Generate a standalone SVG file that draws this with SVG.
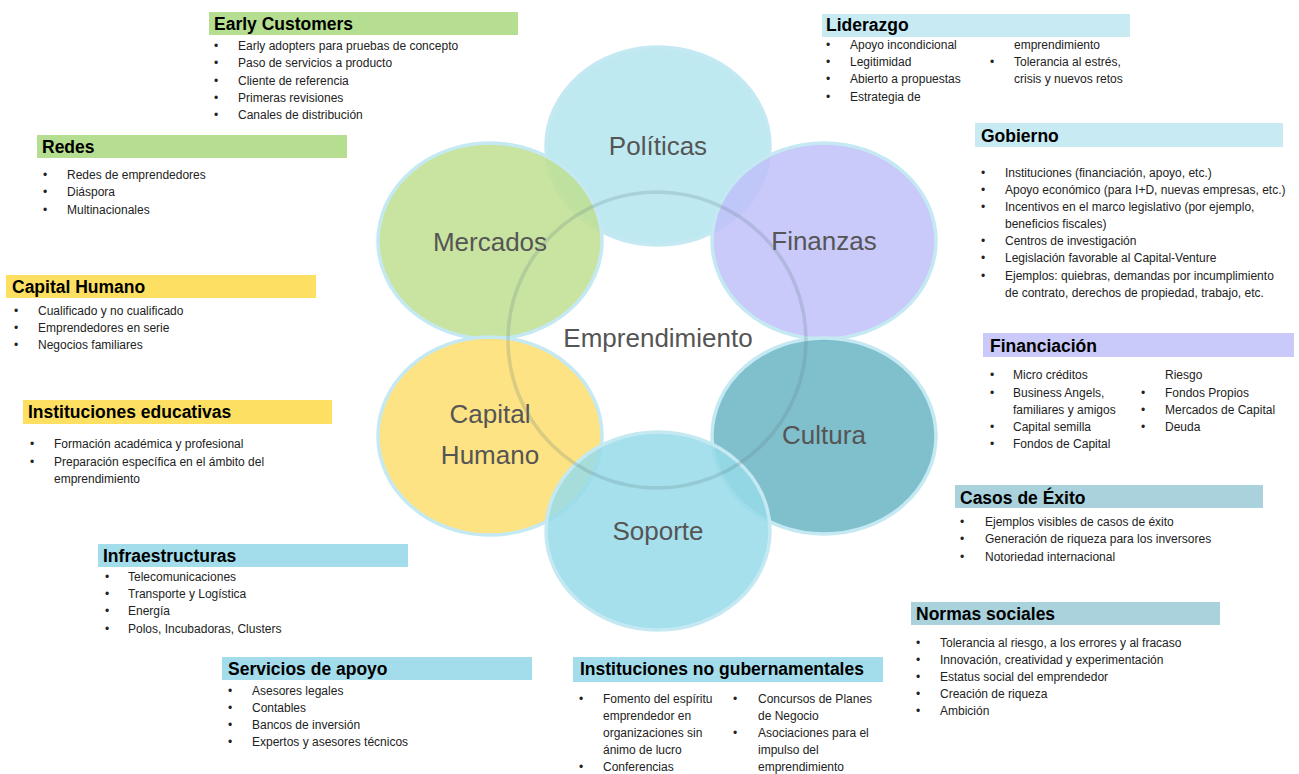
<svg xmlns="http://www.w3.org/2000/svg" width="1299" height="774" viewBox="0 0 1299 774">
<style>
.t{font-family:"Liberation Sans",Arial,sans-serif;font-weight:bold;font-size:17.5px;fill:#000}
.i{font-family:"Liberation Sans",Arial,sans-serif;font-size:12px;fill:#222}
.c{font-family:"Liberation Sans",Arial,sans-serif;font-size:26px;fill:#555;text-anchor:middle}
.ci{stroke:#c4e9f2;stroke-width:3.5;fill-opacity:0.85}
.green{fill:#b6de90}.yellow{fill:#fde062}.lcyan{fill:#c8ebf3}.lav{fill:#c9c9fa}.teal{fill:#a9d2dd}.cyan{fill:#a3dcea}
</style>
<rect width="1299" height="774" fill="#fff"/>
<g id="circles">
<g id="politicas"><ellipse class="ci" cx="658" cy="146" rx="112" ry="99" fill="#b3e5ef"/><text class="c" x="658" y="155">Políticas</text></g>
<g id="mercados"><ellipse class="ci" cx="490" cy="241" rx="112" ry="98" fill="#c0df90"/><text class="c" x="490" y="251">Mercados</text></g>
<g id="finanzas"><ellipse class="ci" cx="824" cy="241" rx="112" ry="98" fill="#c0c0f9"/><text class="c" x="824" y="250">Finanzas</text></g>
<g id="cultura"><ellipse class="ci" cx="824" cy="436" rx="112" ry="98" fill="#6ab4c3"/><text class="c" x="824" y="444">Cultura</text></g>
<g id="capital-humano"><ellipse class="ci" cx="490" cy="436" rx="112" ry="99" fill="#fdde6d"/><text class="c" x="490" y="423">Capital</text><text class="c" x="490" y="464">Humano</text></g>
<g id="soporte"><ellipse class="ci" cx="658" cy="531" rx="112" ry="99" fill="#96dae9"/><text class="c" x="658" y="540">Soporte</text></g>
<g id="emprendimiento"><ellipse cx="657" cy="340" rx="149" ry="148" fill="none" stroke="#5a7a80" stroke-opacity="0.22" stroke-width="3.5"/><text class="c" x="658" y="347" font-size="27">Emprendimiento</text></g>
</g>
<g id="connectors"/>

<g id="early-customers">
<rect class="green" x="209" y="12" width="309" height="23"/>
<text class="t" x="214" y="30">Early Customers</text>
<text class="i"><tspan x="214" y="50">•</tspan><tspan x="238">Early adopters para pruebas de concepto</tspan><tspan x="214" y="67">•</tspan><tspan x="238">Paso de servicios a producto</tspan><tspan x="214" y="85">•</tspan><tspan x="238">Cliente de referencia</tspan><tspan x="214" y="102">•</tspan><tspan x="238">Primeras revisiones</tspan><tspan x="214" y="119">•</tspan><tspan x="238">Canales de distribución</tspan></text>
</g>

<g id="redes">
<rect class="green" x="37" y="135" width="310" height="23"/>
<text class="t" x="42" y="153">Redes</text>
<text class="i"><tspan x="43" y="179">•</tspan><tspan x="67">Redes de emprendedores</tspan><tspan x="43" y="196">•</tspan><tspan x="67">Diáspora</tspan><tspan x="43" y="214">•</tspan><tspan x="67">Multinacionales</tspan></text>
</g>

<g id="capital-humano-box">
<rect class="yellow" x="6" y="275" width="310" height="23"/>
<text class="t" x="12" y="293">Capital Humano</text>
<text class="i"><tspan x="14" y="315">•</tspan><tspan x="38">Cualificado y no cualificado</tspan><tspan x="14" y="332">•</tspan><tspan x="38">Emprendedores en serie</tspan><tspan x="14" y="349">•</tspan><tspan x="38">Negocios familiares</tspan></text>
</g>

<g id="instituciones-educativas">
<rect class="yellow" x="23" y="400" width="309" height="24"/>
<text class="t" x="28" y="418">Instituciones educativas</text>
<text class="i"><tspan x="30" y="448">•</tspan><tspan x="54">Formación académica y profesional</tspan><tspan x="30" y="466">•</tspan><tspan x="54">Preparación específica en el ámbito del</tspan><tspan x="54" y="483">emprendimiento</tspan></text>
</g>

<g id="infraestructuras">
<rect class="cyan" x="98" y="544" width="310" height="23"/>
<text class="t" x="103" y="562">Infraestructuras</text>
<text class="i"><tspan x="105" y="581">•</tspan><tspan x="128">Telecomunicaciones</tspan><tspan x="105" y="598">•</tspan><tspan x="128">Transporte y Logística</tspan><tspan x="105" y="615">•</tspan><tspan x="128">Energía</tspan><tspan x="105" y="633">•</tspan><tspan x="128">Polos, Incubadoras, Clusters</tspan></text>
</g>

<g id="servicios-de-apoyo">
<rect class="cyan" x="222" y="657" width="310" height="23"/>
<text class="t" x="228" y="675">Servicios de apoyo</text>
<text class="i"><tspan x="228" y="695">•</tspan><tspan x="252">Asesores legales</tspan><tspan x="228" y="712">•</tspan><tspan x="252">Contables</tspan><tspan x="228" y="729">•</tspan><tspan x="252">Bancos de inversión</tspan><tspan x="228" y="746">•</tspan><tspan x="252">Expertos y asesores técnicos</tspan></text>
</g>

<g id="instituciones-no-gubernamentales">
<rect class="cyan" x="573" y="657" width="310" height="25"/>
<text class="t" x="580" y="675">Instituciones no gubernamentales</text>
<text class="i"><tspan x="579" y="703">•</tspan><tspan x="603">Fomento del espíritu</tspan><tspan x="603" y="720">emprendedor en</tspan><tspan x="603" y="737">organizaciones sin</tspan><tspan x="603" y="754">ánimo de lucro</tspan><tspan x="579" y="771">•</tspan><tspan x="603">Conferencias</tspan></text>
<text class="i"><tspan x="733" y="703">•</tspan><tspan x="758">Concursos de Planes</tspan><tspan x="758" y="720">de Negocio</tspan><tspan x="733" y="737">•</tspan><tspan x="758">Asociaciones para el</tspan><tspan x="758" y="754">impulso del</tspan><tspan x="758" y="771">emprendimiento</tspan></text>
</g>

<g id="normas-sociales">
<rect class="teal" x="911" y="602" width="309" height="23"/>
<text class="t" x="916" y="620">Normas sociales</text>
<text class="i"><tspan x="916" y="647">•</tspan><tspan x="940">Tolerancia al riesgo, a los errores y al fracaso</tspan><tspan x="916" y="664">•</tspan><tspan x="940">Innovación, creatividad y experimentación</tspan><tspan x="916" y="681">•</tspan><tspan x="940">Estatus social del emprendedor</tspan><tspan x="916" y="698">•</tspan><tspan x="940">Creación de riqueza</tspan><tspan x="916" y="715">•</tspan><tspan x="940">Ambición</tspan></text>
</g>

<g id="casos-de-exito">
<rect class="teal" x="955" y="485" width="308" height="23"/>
<text class="t" x="960" y="504">Casos de Éxito</text>
<text class="i"><tspan x="960" y="526">•</tspan><tspan x="985">Ejemplos visibles de casos de éxito</tspan><tspan x="960" y="543">•</tspan><tspan x="985">Generación de riqueza para los inversores</tspan><tspan x="960" y="561">•</tspan><tspan x="985">Notoriedad internacional</tspan></text>
</g>

<g id="financiacion">
<rect class="lav" x="983" y="333" width="311" height="24"/>
<text class="t" x="990" y="352">Financiación</text>
<text class="i"><tspan x="990" y="379">•</tspan><tspan x="1013">Micro créditos</tspan><tspan x="990" y="397">•</tspan><tspan x="1013">Business Angels,</tspan><tspan x="1013" y="414">familiares y amigos</tspan><tspan x="990" y="431">•</tspan><tspan x="1013">Capital semilla</tspan><tspan x="990" y="448">•</tspan><tspan x="1013">Fondos de Capital</tspan></text>
<text class="i"><tspan x="1165" y="379">Riesgo</tspan><tspan x="1141" y="397">•</tspan><tspan x="1165">Fondos Propios</tspan><tspan x="1141" y="414">•</tspan><tspan x="1165">Mercados de Capital</tspan><tspan x="1141" y="431">•</tspan><tspan x="1165">Deuda</tspan></text>
</g>

<g id="gobierno">
<rect class="lcyan" x="975" y="123" width="308" height="24"/>
<text class="t" x="981" y="142">Gobierno</text>
<text class="i"><tspan x="981" y="177">•</tspan><tspan x="1005">Instituciones (financiación, apoyo, etc.)</tspan><tspan x="981" y="194">•</tspan><tspan x="1005">Apoyo económico (para I+D, nuevas empresas, etc.)</tspan><tspan x="981" y="211">•</tspan><tspan x="1005">Incentivos en el marco legislativo (por ejemplo,</tspan><tspan x="1005" y="228">beneficios fiscales)</tspan><tspan x="981" y="245">•</tspan><tspan x="1005">Centros de investigación</tspan><tspan x="981" y="262">•</tspan><tspan x="1005">Legislación favorable al Capital-Venture</tspan><tspan x="981" y="280">•</tspan><tspan x="1005">Ejemplos: quiebras, demandas por incumplimiento</tspan><tspan x="1005" y="297">de contrato, derechos de propiedad, trabajo, etc.</tspan></text>
</g>

<g id="liderazgo">
<rect class="lcyan" x="822" y="14" width="308" height="23"/>
<text class="t" x="826" y="31">Liderazgo</text>
<text class="i"><tspan x="826" y="49">•</tspan><tspan x="850">Apoyo incondicional</tspan><tspan x="826" y="66">•</tspan><tspan x="850">Legitimidad</tspan><tspan x="826" y="83">•</tspan><tspan x="850">Abierto a propuestas</tspan><tspan x="826" y="101">•</tspan><tspan x="850">Estrategia de</tspan></text>
<text class="i"><tspan x="1014" y="49">emprendimiento</tspan><tspan x="990" y="66">•</tspan><tspan x="1014">Tolerancia al estrés,</tspan><tspan x="1014" y="83">crisis y nuevos retos</tspan></text>
</g>
</svg>
